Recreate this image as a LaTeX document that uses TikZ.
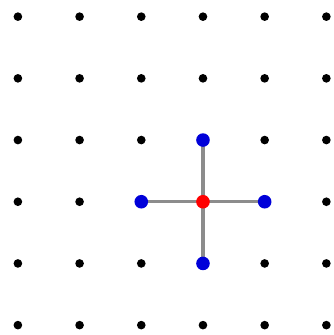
\documentclass[tikz,border=0pt]{standalone}
\usepackage{xcolor}
\usepackage{tikz}
\usetikzlibrary{positioning}

\tikzset{
  dot/.style={circle,fill=black,inner sep=0pt,minimum size=1.4mm},
  site/.style={circle,inner sep=0pt,minimum size=2.2mm},
  bond/.style={draw=gray!90,line width=1.5pt}
}

\begin{document}
\begin{tikzpicture}[scale=1.0]
\useasboundingbox (-0.29,-0.16) rectangle (5.11,5.27);
% lattice
\foreach \i in {0,...,5}
  \foreach \j in {0,...,5}
    \node[dot] (g-\i-\j) at (\i,\j) {};
% nearest neighbours
\draw[bond] (g-3-2.center) -- (g-3-3.center);
\draw[bond] (g-3-2.center) -- (g-2-2.center);
\draw[bond] (g-3-2.center) -- (g-4-2.center);
\draw[bond] (g-3-2.center) -- (g-3-1.center);
\node[site,fill=blue!85!black] (n) at (g-3-3) {};
\node[site,fill=blue!85!black] (w) at (g-2-2) {};
\node[site,fill=blue!85!black] (e) at (g-4-2) {};
\node[site,fill=blue!85!black] (s) at (g-3-1) {};
\node[site,fill=red] (c) at (g-3-2) {};
\end{tikzpicture}
\end{document}
